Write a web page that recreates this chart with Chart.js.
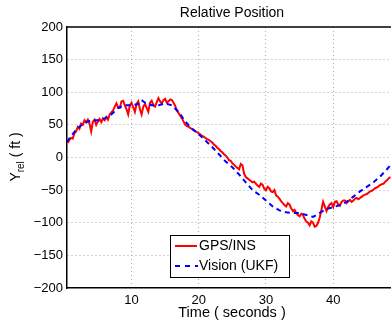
<!DOCTYPE html>
<html>
<head>
<meta charset="utf-8">
<script src="https://cdn.jsdelivr.net/npm/chart.js@4"></script>
<style>
  html, body { margin: 0; padding: 0; background: #fff; }
  #wrap { width: 391px; height: 328px; }
</style>
</head>
<body>
<div id="wrap"><canvas id="chart" width="391" height="328"></canvas></div>
<script>
// ---- data ----
const gpsTime = [
  0.5, 0.75, 1, 1.25, 1.5, 1.75, 2, 2.25, 2.5, 2.75, 3,
  3.25, 3.5, 3.75, 4, 4.25, 4.5, 4.75, 5, 5.25, 5.5, 5.75, 6,
  6.25, 6.5, 6.75, 7, 7.25, 7.5, 7.75, 8, 8.25, 8.5, 8.75, 9,
  9.25, 9.5, 9.75, 10, 10.25, 10.5, 10.75, 11, 11.25, 11.5, 11.75, 12,
  12.25, 12.5, 12.75, 13, 13.25, 13.5, 13.75, 14, 14.25, 14.5, 14.75, 15,
  15.25, 15.5, 15.75, 16, 16.25, 16.5, 16.75, 17, 17.25, 17.5, 17.75, 18,
  18.25, 18.5, 18.75, 19, 19.25, 19.5, 19.75, 20, 20.25, 20.5, 20.75, 21,
  21.25, 21.5, 21.75, 22, 22.25, 22.5, 22.75, 23, 23.25, 23.5, 23.75, 24,
  24.25, 24.5, 24.75, 25, 25.25, 25.5, 25.75, 26, 26.25, 26.5, 26.75, 27,
  27.25, 27.5, 27.75, 28, 28.25, 28.5, 28.75, 29, 29.25, 29.5, 29.75, 30,
  30.25, 30.5, 30.75, 31, 31.25, 31.5, 31.75, 32, 32.25, 32.5, 32.75, 33,
  33.25, 33.5, 33.75, 34, 34.25, 34.5, 34.75, 35, 35.25, 35.5, 35.75, 36,
  36.25, 36.5, 36.75, 37, 37.25, 37.5, 37.75, 38, 38.25, 38.5, 38.75, 39,
  39.25, 39.5, 39.75, 40, 40.25, 40.5, 40.75, 41, 41.25, 41.5, 41.75, 42,
  42.25, 42.5, 42.75, 43, 43.25, 43.5, 43.75, 44, 44.25, 44.5, 44.75, 45,
  45.25, 45.5, 45.75, 46, 46.25, 46.5, 46.75, 47, 47.25, 47.5, 47.75, 48, 48.25, 48.5];
const gpsIns = [
  22, 27, 30, 29, 37, 40, 47, 44, 52, 50, 57,
  54, 58, 52, 40, 55, 58, 50, 55, 59, 54, 60, 57,
  62, 58, 66, 69, 72, 78, 83, 77, 76, 86, 87, 80,
  74, 66, 80, 84, 77, 70, 82, 86, 74, 66, 78, 82,
  76, 70, 84, 87, 80, 78, 85, 91, 86, 83, 88, 90,
  84, 86, 89, 88, 84, 79, 72, 68, 64, 60, 55, 50,
  48, 47, 45, 44, 42, 40, 39, 37, 35, 33, 32, 30,
  28, 27, 25, 23, 20, 18, 15, 13, 10, 8, 5, 3,
  0, -4, -5, -9, -11, -14, -16, -18, -10, -12, -25, -30,
  -32, -34, -36, -38, -37, -40, -43, -45, -40, -42, -48, -50,
  -45, -47, -52, -53, -50, -58, -60, -63, -67, -70, -73, -75,
  -70, -72, -78, -82, -80, -85, -88, -90, -86, -88, -94, -98,
  -100, -104, -98, -100, -106, -105, -100, -92, -80, -68, -75, -82,
  -76, -72, -70, -76, -68, -67, -72, -74, -68, -66, -66, -70,
  -67, -65, -68, -66, -63, -62, -64, -62, -60, -58, -57, -56,
  -54, -52, -51, -49, -47, -46, -44, -42, -41, -40, -37, -35, -32, -30];

const visionTime = [0.4, 1, 2, 3, 4, 5, 6, 7, 8, 9, 10, 11, 11.5, 12, 13, 14, 15, 16, 17, 18, 19, 20,
  21, 22, 23, 24, 25, 26, 27, 28, 29, 30, 31, 32, 33, 34, 35, 36, 37, 38, 39, 40,
  41, 42, 43, 44, 45, 46, 47, 48, 48.6];
const visionUkf = [24, 33, 45, 53, 57, 57, 60, 66, 76, 80, 80, 82, 88, 84, 80, 80, 83, 80, 70, 55, 44, 36,
  26, 16, 5, -6, -15, -26, -38, -50, -57, -66, -75, -81, -84, -85, -85, -88, -91, -85, -79, -76,
  -73, -68, -60, -52, -45, -38, -29, -18, -11];

const yTicks = [-200, -150, -100, -50, 0, 50, 100, 150, 200];
const xTicks = [10, 20, 30, 40];

const font = 'Liberation Sans, Arial, sans-serif';
const minus = s => String(s).replace('-', '\u2212');

// extra text, frame and legend drawn on top
const decor = {
  id: 'decor',
  afterDraw(chart) {
    const c = chart.ctx, a = chart.chartArea;
    c.save();
    // top frame line
    c.strokeStyle = '#000'; c.lineWidth = 1.5;
    c.beginPath(); c.moveTo(a.left, a.top); c.lineTo(a.right, a.top); c.stroke();

    c.fillStyle = '#000';
    c.textAlign = 'center'; c.textBaseline = 'middle';
    c.font = '14px ' + font;
    c.fillText('Relative Position', 232, 13);
    c.font = '14.5px ' + font;
    c.fillText('Time ( seconds )', 232, 313);

    // y label with subscript
    c.save();
    c.translate(20, 157);
    c.rotate(-Math.PI / 2);
    c.textAlign = 'left'; c.textBaseline = 'alphabetic';
    c.font = '14px ' + font;
    const wY = c.measureText('Y').width;
    c.font = '10px ' + font;
    const wR = c.measureText('rel').width;
    c.font = '14px ' + font;
    const wF = c.measureText(' ( ft )').width;
    let x0 = -(wY + wR + wF) / 2;
    c.fillText('Y', x0, 0);
    c.font = '10px ' + font;
    c.fillText('rel', x0 + wY, 4);
    c.font = '14px ' + font;
    c.fillText(' ( ft )', x0 + wY + wR, 0);
    c.restore();

    // legend
    c.fillStyle = '#fff';
    c.fillRect(170, 235, 119, 42);
    c.strokeStyle = '#000'; c.lineWidth = 1;
    c.strokeRect(170.5, 235.5, 119, 42);
    c.lineWidth = 2;
    c.strokeStyle = '#ff0000';
    c.beginPath(); c.moveTo(175, 246); c.lineTo(197, 246); c.stroke();
    c.strokeStyle = '#0000ff';
    c.setLineDash([5, 5]);
    c.beginPath(); c.moveTo(175, 266); c.lineTo(198, 266); c.stroke();
    c.setLineDash([]);
    c.fillStyle = '#000';
    c.textAlign = 'left'; c.textBaseline = 'middle';
    c.font = '14px ' + font;
    c.fillText('GPS/INS', 199, 246);
    c.fillText('Vision (UKF)', 199, 266);
    c.restore();
  }
};

const ctx = document.getElementById('chart').getContext('2d');
new Chart(ctx, {
  type: 'line',
  data: {
    datasets: [
      {
        label: 'Vision (UKF)',
        data: visionTime.map((t, i) => ({ x: t, y: visionUkf[i] })),
        borderColor: '#0000ff',
        borderWidth: 2,
        borderDash: [5, 4],
        pointRadius: 0,
        tension: 0,
        order: 0
      },
      {
        label: 'GPS/INS',
        data: gpsTime.map((t, i) => ({ x: t, y: gpsIns[i] })),
        borderColor: '#ff0000',
        borderWidth: 2,
        pointRadius: 0,
        tension: 0,
        order: 1
      }
    ]
  },
  options: {
    responsive: false,
    animation: false,
    layout: { padding: { top: 27, right: 0, left: 0, bottom: 0 } },
    plugins: { legend: { display: false }, title: { display: false }, tooltip: { enabled: false } },
    scales: {
      x: {
        type: 'linear',
        min: 0.4,
        max: 48.6,
        afterBuildTicks: s => { s.ticks = xTicks.map(v => ({ value: v })); },
        afterFit: s => { s.height = 40; },
        grid: { color: '#a8a8a8', lineWidth: 1, drawTicks: false },
        border: { color: '#000', width: 1.5, dash: [1, 3] },
        ticks: { color: '#000', font: { family: font, size: 13 }, padding: 5, maxRotation: 0 }
      },
      y: {
        min: -200,
        max: 200,
        afterBuildTicks: s => { s.ticks = yTicks.map(v => ({ value: v })); },
        afterFit: s => { s.width = 67; },
        grid: {
          color: c => (c.tick && Math.abs(c.tick.value) === 200) ? 'rgba(0,0,0,0)' : '#a8a8a8',
          lineWidth: 1, drawTicks: false
        },
        border: { color: '#000', width: 1.5, dash: [1, 3] },
        ticks: { color: '#000', font: { family: font, size: 13 }, padding: 4, callback: v => minus(v) }
      }
    }
  },
  plugins: [decor]
});
</script>
</body>
</html>
